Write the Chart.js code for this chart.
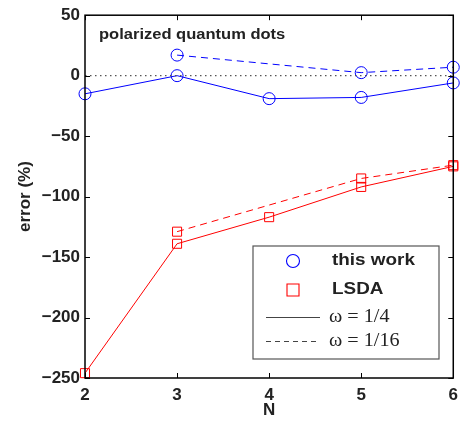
<!DOCTYPE html>
<html>
<head>
<meta charset="utf-8">
<script src="https://cdn.jsdelivr.net/npm/chart.js@4/dist/chart.umd.min.js"></script>
<style>
html,body{margin:0;padding:0;background:#fff;}
canvas{display:block;}
</style>
</head>
<body>
<canvas id="c" width="465" height="424"></canvas>
<script>
// ---- data ----
const N = [2, 3, 4, 5, 6];
const thisWorkQuarter   = [-15, 0, -19, -18, -6];        // this work, omega = 1/4
const thisWorkSixteenth = [null, 17, null, 2.5, 7];     // this work, omega = 1/16
const lsdaQuarter       = [-246, -139, -117, -92, -75]; // LSDA, omega = 1/4
const lsdaSixteenth     = [null, -129, null, -85, -74]; // LSDA, omega = 1/16
const zeroLine          = [0, 0, 0, 0, 0];
const yTicks = [50, 0, -50, -100, -150, -200, -250];
const xTicks = [2, 3, 4, 5, 6];
const titleText = 'polarized quantum dots';
const legendLabels = ['this work', 'LSDA', 'ω = 1/4', 'ω = 1/16'];

const BLUE = '#0000ff';
const RED = '#ff0000';

function pts(arr){ return N.map((n,i)=>({x:n, y:arr[i]})); }

const fontTick = {family:'"Liberation Sans", Arial, sans-serif', size:17, weight:'bold'};

function wideText(ctx, text, x, y, sx){
  ctx.save();
  ctx.translate(x, y);
  ctx.scale(sx, 1);
  ctx.fillText(text, 0, 0);
  ctx.restore();
}

const framePlugin = {
  id:'frame',
  beforeDatasetsDraw(chart){
    const {ctx, chartArea:a} = chart;
    ctx.save();
    ctx.fillStyle = '#222';
    ctx.font = 'bold 14px "Liberation Sans", Arial, sans-serif';
    ctx.textBaseline = 'middle';
    ctx.textAlign = 'left';
    wideText(ctx, titleText, a.left + 14, a.top + 20, 1.18);
    ctx.restore();
  },
  afterDraw(chart){
    const {ctx, chartArea:a, scales:{x, y}} = chart;
    ctx.save();
    ctx.strokeStyle = '#000';
    ctx.lineWidth = 1.5;
    ctx.strokeRect(a.left, a.top, a.right - a.left, a.bottom - a.top);
    ctx.lineWidth = 1;
    const tl = 5;
    ctx.beginPath();
    yTicks.forEach(v=>{
      const py = Math.round(y.getPixelForValue(v)) + 0.5;
      ctx.moveTo(a.left, py); ctx.lineTo(a.left + tl, py);
      ctx.moveTo(a.right, py); ctx.lineTo(a.right - tl, py);
    });
    xTicks.forEach(v=>{
      const px = Math.round(x.getPixelForValue(v)) + 0.5;
      ctx.moveTo(px, a.bottom); ctx.lineTo(px, a.bottom - tl);
      ctx.moveTo(px, a.top); ctx.lineTo(px, a.top + tl);
    });
    ctx.stroke();

    // legend box
    const lx = 253, ly = 246, lw = 186, lh = 113;
    ctx.fillStyle = '#fff';
    ctx.fillRect(lx, ly, lw, lh);
    ctx.strokeStyle = '#555';
    ctx.lineWidth = 1.2;
    ctx.strokeRect(lx, ly, lw, lh);

    // markers
    ctx.lineWidth = 1.1;
    ctx.strokeStyle = BLUE;
    ctx.beginPath(); ctx.arc(293, 261, 6.5, 0, Math.PI*2); ctx.stroke();
    ctx.strokeStyle = RED;
    ctx.beginPath(); ctx.rect(287, 284, 12, 12); ctx.stroke();
    // lines
    ctx.lineWidth = 1;
    ctx.strokeStyle = '#444';
    ctx.beginPath(); ctx.moveTo(266, 317.5); ctx.lineTo(320, 317.5); ctx.stroke();
    ctx.setLineDash([5,4]);
    ctx.beginPath(); ctx.moveTo(266, 341.5); ctx.lineTo(320, 341.5); ctx.stroke();
    ctx.setLineDash([]);

    ctx.fillStyle = '#222';
    ctx.textAlign = 'left';
    ctx.textBaseline = 'middle';
    ctx.font = 'bold 16px "Liberation Sans", Arial, sans-serif';
    wideText(ctx, legendLabels[0], 332, 261, 1.18);
    wideText(ctx, legendLabels[1], 332, 290, 1.18);
    ctx.font = '18px "Liberation Serif", "Times New Roman", serif';
    wideText(ctx, legendLabels[2], 329, 317, 1.12);
    wideText(ctx, legendLabels[3], 329, 341, 1.12);
    ctx.restore();
  }
};

new Chart(document.getElementById('c'), {
  type:'line',
  data:{
    datasets:[
      {data:pts(zeroLine), borderColor:'#555', borderWidth:1.2, borderDash:[1.5,3.5], pointRadius:0, clip:false},
      {data:pts(thisWorkQuarter), borderColor:BLUE, borderWidth:1, pointStyle:'circle', pointRadius:6, pointBorderColor:BLUE, pointBackgroundColor:'rgba(0,0,0,0)', pointBorderWidth:1, clip:false},
      {data:pts(thisWorkSixteenth), borderColor:BLUE, borderWidth:1, borderDash:[7,5], spanGaps:true, pointStyle:'circle', pointRadius:6, pointBorderColor:BLUE, pointBackgroundColor:'rgba(0,0,0,0)', pointBorderWidth:1, clip:false},
      {data:pts(lsdaQuarter), borderColor:RED, borderWidth:1, pointStyle:'rect', pointRadius:6.4, pointBorderColor:RED, pointBackgroundColor:'rgba(0,0,0,0)', pointBorderWidth:1, clip:false},
      {data:pts(lsdaSixteenth), borderColor:RED, borderWidth:1, borderDash:[7,5], spanGaps:true, pointStyle:'rect', pointRadius:6.4, pointBorderColor:RED, pointBackgroundColor:'rgba(0,0,0,0)', pointBorderWidth:1, clip:false}
    ]
  },
  options:{
    responsive:false,
    animation:false,
    devicePixelRatio:1,
    tension:0,
    layout:{padding:{top:6, right:9, left:0, bottom:0}},
    plugins:{legend:{display:false}, tooltip:{enabled:false}},
    scales:{
      x:{
        type:'linear', min:2, max:6,
        afterFit(s){ s.height = 46; },
        afterBuildTicks(s){ s.ticks = xTicks.map(v=>({value:v})); },
        grid:{display:false, drawTicks:false},
        border:{display:false},
        ticks:{font:fontTick, color:'#222', padding:7, maxRotation:0},
        title:{display:true, text:'N', font:fontTick, color:'#222', padding:{top:0, bottom:3}}
      },
      y:{
        type:'linear', min:-250, max:50,
        afterFit(s){ s.width = 85; },
        afterBuildTicks(s){ s.ticks = yTicks.map(v=>({value:v})); },
        grid:{display:false, drawTicks:false},
        border:{display:false},
        ticks:{font:fontTick, color:'#222', padding:5,
          callback:(v)=> v < 0 ? '\u2212' + Math.abs(v) : String(v)},
        title:{display:true, text:'error (%)', font:fontTick, color:'#222', padding:{top:15, bottom:0}}
      }
    }
  },
  plugins:[framePlugin]
});
</script>
</body>
</html>
